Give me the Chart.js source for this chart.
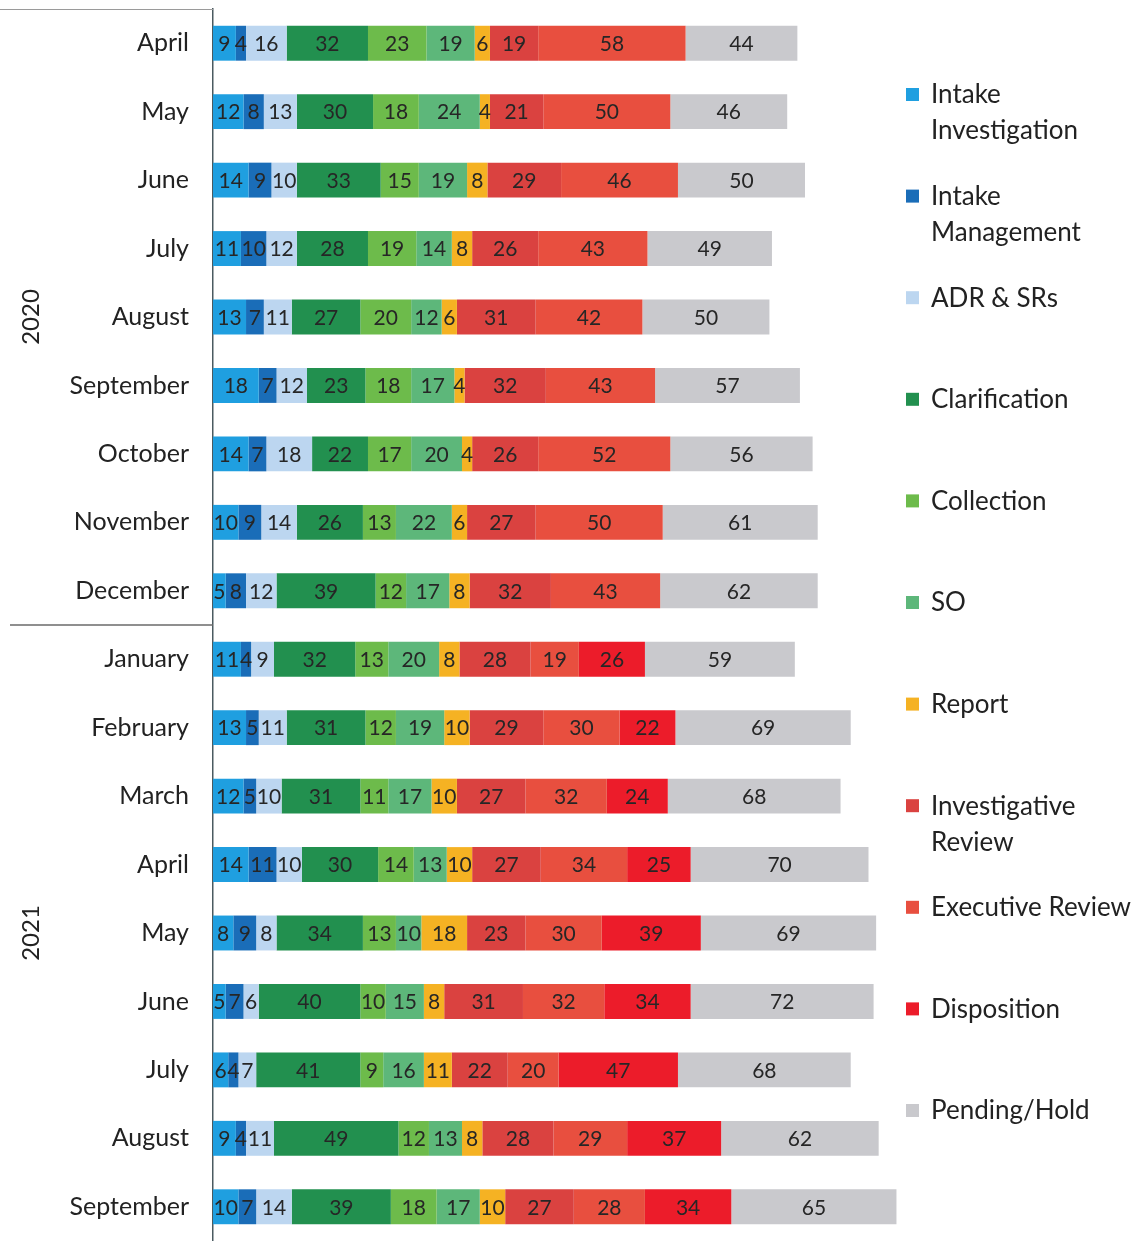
<!DOCTYPE html>
<html>
<head>
<meta charset="utf-8">
<script src="https://cdn.jsdelivr.net/npm/chart.js@4.4.1/dist/chart.umd.min.js"></script>
<style>
  html, body { margin: 0; padding: 0; background: #ffffff; }
  #wrap { position: relative; width: 1146px; height: 1241px; }
</style>
</head>
<body>
<div id="wrap"><canvas id="chart" width="1146" height="1241"></canvas></div>
<script>
// Months shown on the category axis (Apr 2020 – Sep 2021)
const months = ['April', 'May', 'June', 'July', 'August', 'September', 'October', 'November', 'December',
                'January', 'February', 'March', 'April', 'May', 'June', 'July', 'August', 'September'];
const yearLabels = ['2020', '2021'];
const monthsPerYear = [9, 9];

// Case counts per stage, one value per month
const intakeInvestigation = [9, 12, 14, 11, 13, 18, 14, 10, 5, 11, 13, 12, 14, 8, 5, 6, 9, 10];
const intakeManagement    = [4, 8, 9, 10, 7, 7, 7, 9, 8, 4, 5, 5, 11, 9, 7, 4, 4, 7];
const adrSrs              = [16, 13, 10, 12, 11, 12, 18, 14, 12, 9, 11, 10, 10, 8, 6, 7, 11, 14];
const clarification       = [32, 30, 33, 28, 27, 23, 22, 26, 39, 32, 31, 31, 30, 34, 40, 41, 49, 39];
const collection          = [23, 18, 15, 19, 20, 18, 17, 13, 12, 13, 12, 11, 14, 13, 10, 9, 12, 18];
const so                  = [19, 24, 19, 14, 12, 17, 20, 22, 17, 20, 19, 17, 13, 10, 15, 16, 13, 17];
const report              = [6, 4, 8, 8, 6, 4, 4, 6, 8, 8, 10, 10, 10, 18, 8, 11, 8, 10];
const investigativeReview = [19, 21, 29, 26, 31, 32, 26, 27, 32, 28, 29, 27, 27, 23, 31, 22, 28, 27];
const executiveReview     = [58, 50, 46, 43, 42, 43, 52, 50, 43, 19, 30, 32, 34, 30, 32, 20, 29, 28];
const disposition         = [null, null, null, null, null, null, null, null, null, 26, 22, 24, 25, 39, 34, 47, 37, 34];
const pendingHold         = [44, 46, 50, 49, 50, 57, 56, 61, 62, 59, 69, 68, 70, 69, 72, 68, 62, 65];

const seriesNames = ['Intake Investigation', 'Intake Management', 'ADR & SRs', 'Clarification', 'Collection',
                     'SO', 'Report', 'Investigative Review', 'Executive Review', 'Disposition', 'Pending/Hold'];
const seriesLegendLines = [['Intake', 'Investigation'], ['Intake', 'Management'], ['ADR & SRs'], ['Clarification'],
                           ['Collection'], ['SO'], ['Report'], ['Investigative', 'Review'], ['Executive Review'],
                           ['Disposition'], ['Pending/Hold']];
const seriesValues = [intakeInvestigation, intakeManagement, adrSrs, clarification, collection,
                      so, report, investigativeReview, executiveReview, disposition, pendingHold];
const seriesColors = ['#1f9fe0', '#1a6db8', '#bcd6f0', '#22904f', '#6dbb4b',
                      '#5db77a', '#f5b223', '#da4240', '#e84f3f', '#ec1c2a', '#c9c9cd'];

const FONT = 'Lato, "Open Sans", sans-serif';

// Value printed in the middle of each segment
const segmentLabels = {
  id: 'segmentLabels',
  afterDatasetsDraw(chart) {
    const ctx = chart.ctx;
    ctx.save();
    ctx.font = '21px ' + FONT;
    ctx.fillStyle = '#262626';
    ctx.textAlign = 'center';
    ctx.textBaseline = 'middle';
    chart.data.datasets.forEach((ds, di) => {
      const meta = chart.getDatasetMeta(di);
      meta.data.forEach((el, i) => {
        const v = ds.data[i];
        if (v === null || v === undefined) return;
        ctx.fillText(String(v), (el.x + el.base) / 2, el.y + 1);
      });
    });
    ctx.restore();
  }
};

// Year groups on the left, with rules between them
const yearGroups = {
  id: 'yearGroups',
  afterDraw(chart) {
    const ctx = chart.ctx;
    const y = chart.scales.y;
    const area = chart.chartArea;
    ctx.save();
    // top rule
    ctx.strokeStyle = '#9a9a9a';
    ctx.lineWidth = 1;
    ctx.beginPath();
    ctx.moveTo(0, area.top + 0.5);
    ctx.lineTo(area.left, area.top + 0.5);
    ctx.stroke();
    let start = 0;
    ctx.font = '24px ' + FONT;
    ctx.fillStyle = '#222';
    ctx.textAlign = 'center';
    ctx.textBaseline = 'middle';
    yearLabels.forEach((yr, gi) => {
      const n = monthsPerYear[gi];
      const first = y.getPixelForValue(start);
      const last = y.getPixelForValue(start + n - 1);
      const mid = (first + last) / 2;
      ctx.save();
      ctx.translate(31, mid);
      ctx.rotate(-Math.PI / 2);
      ctx.fillText(yr, 0, 0);
      ctx.restore();
      if (gi < yearLabels.length - 1) {
        const sep = (y.getPixelForValue(start + n - 1) + y.getPixelForValue(start + n)) / 2;
        ctx.strokeStyle = '#6a6a6a';
        ctx.lineWidth = 1.5;
        ctx.beginPath();
        ctx.moveTo(10, sep);
        ctx.lineTo(area.left, sep);
        ctx.stroke();
      }
      start += n;
    });
    ctx.restore();
  }
};

// Legend stacked down the right-hand side
const sideLegend = {
  id: 'sideLegend',
  afterDraw(chart) {
    const ctx = chart.ctx;
    ctx.save();
    ctx.font = '26px ' + FONT;
    ctx.textAlign = 'left';
    ctx.textBaseline = 'middle';
    const x0 = 906, top = 95, step = 101.6, lineH = 36;
    seriesLegendLines.forEach((lines, i) => {
      const cy = top + i * step;
      ctx.fillStyle = seriesColors[i];
      ctx.fillRect(x0, cy - 7, 13, 13);
      ctx.fillStyle = '#222';
      lines.forEach((t, li) => ctx.fillText(t, x0 + 25, cy + li * lineH));
    });
    ctx.restore();
  }
};

new Chart(document.getElementById('chart'), {
  type: 'bar',
  data: {
    labels: months,
    datasets: seriesNames.map((name, i) => ({
      label: name,
      data: seriesValues[i],
      backgroundColor: seriesColors[i],
      borderWidth: 0,
      barPercentage: 0.51,
      categoryPercentage: 1
    }))
  },
  options: {
    indexAxis: 'y',
    responsive: false,
    animation: false,
    layout: { padding: { left: 0, right: 247, top: 9, bottom: 0 } },
    plugins: { legend: { display: false }, tooltip: { enabled: false } },
    scales: {
      x: { stacked: true, min: 0, max: 270, display: false },
      y: {
        stacked: true,
        grid: { display: false, drawTicks: false },
        border: { display: true, color: '#4a5a60', width: 1.5 },
        ticks: { font: { family: FONT, size: 25 }, color: '#222', padding: 24 },
        afterFit(scale) {
          scale.width = 213;
          scale.paddingTop = 0;
          scale.paddingBottom = 0;
        }
      }
    }
  },
  plugins: [segmentLabels, yearGroups, sideLegend]
});
</script>
</body>
</html>
